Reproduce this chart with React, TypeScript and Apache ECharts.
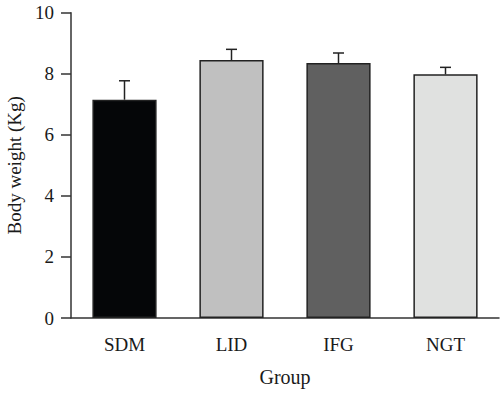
import React, { useEffect, useRef } from "react";
import * as echarts from "echarts";

const categories = ["SDM", "LID", "IFG", "NGT"];
const means = [7.15, 8.45, 8.35, 7.98];
const errorTops = [7.77, 8.8, 8.68, 8.21];
const barColors = ["#050608", "#c0c0c0", "#606060", "#e0e1e0"];
const yTicks = [0, 2, 4, 6, 8, 10];

const FONT = "'Liberation Serif', 'DejaVu Serif', serif";

export default function App() {
  const ref = useRef<HTMLDivElement>(null);
  useEffect(() => {
    if (!ref.current) return;
    const chart = echarts.init(ref.current, undefined, { renderer: "svg" });
    const errData = categories.map((c, i) => [i, means[i], errorTops[i]]);
    chart.setOption({
      animation: false,
      backgroundColor: "#ffffff",
      grid: { left: 71, right: 1, top: 12.7, bottom: 75, outerBoundsMode: "none", containLabel: false },
      xAxis: {
        type: "category",
        data: categories,
        name: "Group",
        nameLocation: "middle",
        nameGap: 49,
        nameTextStyle: { fontFamily: FONT, fontSize: 20, color: "#1a1a1a" },
        axisLine: { lineStyle: { color: "#333", width: 1.5 } },
        axisTick: { alignWithLabel: true, length: 10, lineStyle: { color: "#333", width: 1.5 } },
        axisLabel: { fontFamily: FONT, fontSize: 19, color: "#1a1a1a", margin: 17 },
      },
      yAxis: {
        type: "value",
        min: yTicks[0],
        max: yTicks[yTicks.length - 1],
        interval: 2,
        name: "Body weight (Kg)",
        nameLocation: "middle",
        nameGap: 47,
        nameTextStyle: { fontFamily: FONT, fontSize: 19, color: "#1a1a1a" },
        axisLine: { show: true, lineStyle: { color: "#333", width: 1.5 } },
        axisTick: { show: true, length: 10, lineStyle: { color: "#333", width: 1.5 } },
        axisLabel: { fontFamily: FONT, fontSize: 19, color: "#1a1a1a", margin: 17 },
        splitLine: { show: false },
      },
      series: [
        {
          type: "bar",
          barWidth: "60%",
          data: means.map((v, i) => ({
            value: v,
            itemStyle: { color: barColors[i], borderColor: "#222", borderWidth: 1.5 },
          })),
          z: 2,
        },
        {
          type: "custom",
          z: 3,
          data: errData,
          renderItem: (params: any, api: any) => {
            const x = api.value(0);
            const lo = api.coord([x, api.value(1)]);
            const hi = api.coord([x, api.value(2)]);
            const half = 5.5;
            const style = { stroke: "#222", lineWidth: 1.5 };
            return {
              type: "group",
              children: [
                { type: "line", shape: { x1: lo[0], y1: lo[1], x2: hi[0], y2: hi[1] }, style },
                { type: "line", shape: { x1: hi[0] - half, y1: hi[1], x2: hi[0] + half, y2: hi[1] }, style },
              ],
            };
          },
        },
      ],
    });
    return () => chart.dispose();
  }, []);
  return <div ref={ref} style={{ width: 500, height: 393, position: "absolute", left: 0, top: 0 }} />;
}
